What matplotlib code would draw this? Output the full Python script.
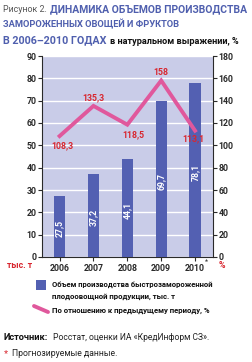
import matplotlib
matplotlib.use("Agg")
import matplotlib.pyplot as plt
from matplotlib.lines import Line2D
from matplotlib.patches import Rectangle
import numpy as np

years = ["2006", "2007", "2008", "2009", "2010"]
volume = [27.5, 37.2, 44.1, 69.7, 78.1]
volume_labels = ["27,5", "37,2", "44,1", "69,7", "78,1"]
pct = [108.3, 135.3, 118.5, 158, 113.1]
pct_labels = ["108,3", "135,3", "118,5", "158", "113,1"]
left_ticks = [0, 10, 20, 30, 40, 50, 60, 70, 80, 90]
right_ticks = [0, 20, 40, 60, 80, 100, 120, 140, 160, 180]

W, H = 252, 362
FONT = ['Roboto', 'DejaVu Sans']
plt.rcParams['font.family'] = FONT

BLUE_T = '#4f5fae'
BAR = '#5360b2'
BG = '#c9cce8'
PINK = '#e0589c'
RED = '#d8262f'
DARK = '#2a2a2a'

fig = plt.figure(figsize=(W / 100, H / 100), dpi=100)
fig.canvas.draw()
R = fig.canvas.get_renderer()

def px(x, y):
    return x / W, 1 - y / H

def fit_text(x, y, s, width, maxsize, **kw):
    t = fig.text(x / W, 1 - y / H, s, va='center', ha='left', fontsize=10, **kw)
    w = t.get_window_extent(R).width
    t.set_fontsize(min(maxsize, 10 * width / w))
    return t

# axes: x 42..213, y 56..257
x0, x1, yt, yb = 42, 213, 56, 257
ax = fig.add_axes([x0 / W, 1 - yb / H, (x1 - x0) / W, (yb - yt) / H])
ax.set_facecolor(BG)
xs = np.arange(len(years))
ax.bar(xs, volume, width=0.33, color=BAR, zorder=3)
ax.set_ylim(0, 90)
ax.set_xlim(-0.52, 4.53)
ax.set_yticks(left_ticks)
ax.grid(axis='y', color='white', linewidth=1.0, zorder=1)
ax.set_xticks(xs)
ax.set_xticklabels(years)
for s in ['top', 'right']:
    ax.spines[s].set_visible(False)
ax.spines['left'].set_color(DARK)
ax.spines['bottom'].set_color(DARK)
ax.tick_params(axis='y', length=3, width=0.8, pad=1, labelsize=6.3, colors=DARK)
ax.tick_params(axis='x', length=3, width=0.8, pad=2, labelsize=6.3, colors=DARK)
for lab in ax.get_yticklabels() + ax.get_xticklabels():
    lab.set_fontweight('bold')
for i, (v, l) in enumerate(zip(volume, volume_labels)):
    ax.text(i, v / 2 - 1, l, rotation=90, ha='center', va='center', color='white',
            fontsize=6.3, fontweight='bold', zorder=5)

ax2 = ax.twinx()
ax2.set_ylim(0, 180)
ax2.set_yticks(right_ticks)
for s in ['top', 'left', 'bottom']:
    ax2.spines[s].set_visible(False)
ax2.spines['right'].set_color(DARK)
ax2.tick_params(axis='y', length=3, width=0.8, pad=1, labelsize=6.3, colors=DARK)
for lab in ax2.get_yticklabels():
    lab.set_fontweight('bold')
ax2.plot(xs, pct, color=PINK, linewidth=2.8, solid_joinstyle='miter', zorder=6)
offs = [(2, -7), (0, 6), (4, -7), (0, 6), (-1, -6)]
for i, (v, l) in enumerate(zip(pct, pct_labels)):
    ax2.annotate(l, (i, v), xytext=offs[i], textcoords='offset points', ha='center',
                 va='center', color=RED, fontsize=6.3, fontweight='bold', zorder=7)

# axis unit labels
fig.text(*px(20, 266), 'тыс. т', color=RED, fontsize=6.3, fontweight='bold', ha='center', va='center')
fig.text(*px(222, 266), '%', color=RED, fontsize=6.3, fontweight='bold', ha='center', va='center')
fig.text(*px(206, 262), '*', color=DARK, fontsize=5, ha='center', va='center')

# title
fit_text(3, 9, 'Рисунок 2.', 44, 8, color='#555555')
fit_text(50, 9, 'ДИНАМИКА ОБЪЕМОВ ПРОИЗВОДСТВА', 197, 11, color=BLUE_T, fontweight='bold')
fit_text(3, 24, 'ЗАМОРОЖЕННЫХ ОВОЩЕЙ И ФРУКТОВ', 178, 11, color=BLUE_T, fontweight='bold')
fit_text(3, 40, 'В 2006–2010 ГОДАХ', 104, 11, color=BLUE_T, fontweight='bold')
fit_text(110, 41, 'в натуральном выражении, %', 130, 8, color='#111111', fontweight='bold')

# legend
fig.patches.append(Rectangle(px(36, 290), 10 / W, 10 / H, transform=fig.transFigure,
                             facecolor=BAR, edgecolor='none'))
fit_text(52, 284, 'Объем производства быстрозамороженной', 161, 7, color='#111111', fontweight='bold')
fit_text(52, 296, 'плодоовощной продукции, тыс. т', 124, 7, color='#111111', fontweight='bold')
fig.lines.append(Line2D([34 / W, 48 / W], [1 - 306 / H, 1 - 312 / H], transform=fig.transFigure,
                        color=PINK, linewidth=2.8, solid_capstyle='round'))
fit_text(52, 311, 'По отношению к предыдущему периоду, %', 160, 7, color='#111111', fontweight='bold')

# source
fit_text(4, 338, 'Источник:', 45, 7.5, color='#111111', fontweight='bold')
fit_text(53, 338, 'Росстат, оценки ИА «КредИнформ СЗ».', 157, 7.5, color='#222222')
fig.text(*px(4, 354), '*', fontsize=6.8, color=RED, va='center', ha='left')
fit_text(12, 354, 'Прогнозируемые данные.', 105, 7.5, color='#222222')

fig.savefig('out.png', dpi=100)
